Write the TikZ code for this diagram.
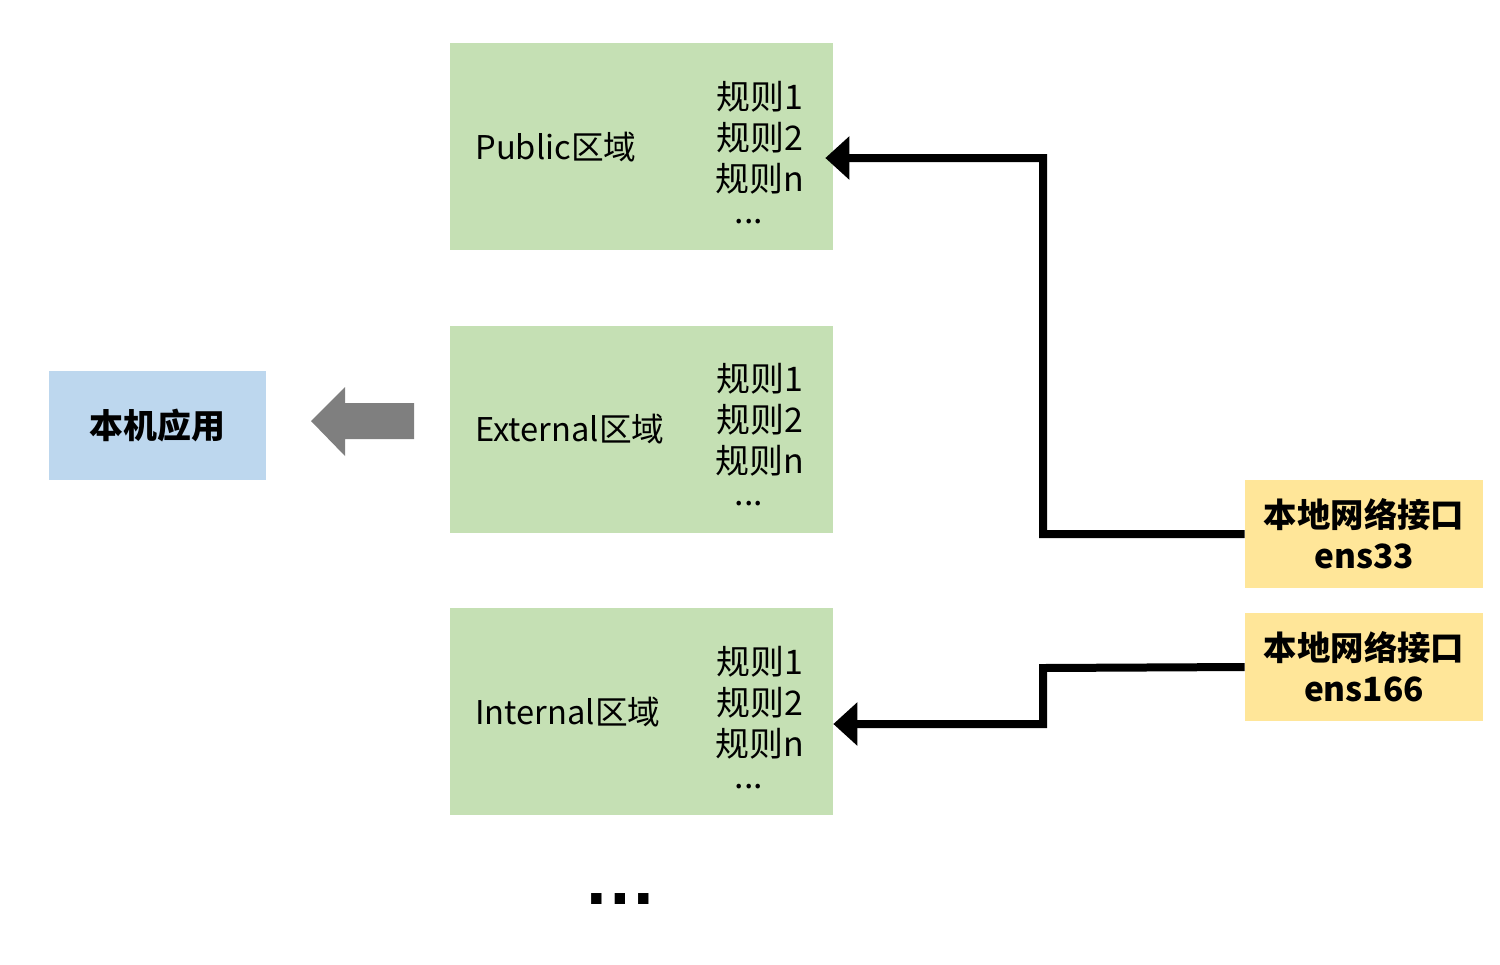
\documentclass[tikz,border=0pt]{standalone}
\usepackage{fontspec}
\setmainfont{Noto Sans CJK SC}
\newfontfamily\libsans{Liberation Sans}
\usetikzlibrary{arrows.meta,calc}
\definecolor{zonegreen}{HTML}{C5E0B4}
\definecolor{appblue}{HTML}{BDD7EE}
\definecolor{ifyellow}{HTML}{FFE699}
\definecolor{arrowgray}{HTML}{7F7F7F}
\begin{document}
\begin{tikzpicture}[x=0.02cm,y=-0.02cm,
  zone/.style={fill=zonegreen,draw=none,minimum width=7.66cm,minimum height=4.14cm,inner sep=0pt},
  app/.style={fill=appblue,draw=none,minimum width=4.34cm,minimum height=2.18cm,inner sep=0pt,font=\fontsize{19.3pt}{23pt}\selectfont\bfseries},
  iface/.style={fill=ifyellow,draw=none,minimum width=4.76cm,minimum height=2.16cm,inner sep=0pt,align=center,font=\fontsize{19pt}{23.5pt}\selectfont\bfseries},
  zonelabel/.style={anchor=west,inner sep=0pt,font=\fontsize{18.6pt}{20pt}\selectfont},
  rules/.style={anchor=base,inner sep=0pt,align=center,font=\fontsize{19.3pt}{23.5pt}\selectfont},
  conn/.style={line width=0.16cm,-{Triangle[length=0.48cm,width=0.84cm]}}]
\useasboundingbox (0,0) rectangle (1500,964);
% zones
\node[zone] (g1) at (641.5,146.5) {};
\node[zone] (g2) at (641.5,429.5) {};
\node[zone] (g3) at (641.5,711.5) {};
\node[zonelabel] (l1) at (475,147) {Public区域};
\node[zonelabel] (l2) at (475,429) {External区域};
\node[zonelabel] (l3) at (475,712) {Internal区域};
% rules
\node[rules] (r1) at (760,223) {规则1\\规则2\\规则n\\[-0.2cm]...\hspace*{0.44cm}};
\node[rules] (r2) at (760,505) {规则1\\规则2\\规则n\\[-0.2cm]...\hspace*{0.44cm}};
\node[rules] (r3) at (760,788) {规则1\\规则2\\规则n\\[-0.2cm]...\hspace*{0.44cm}};
% app
\node[app] (app) at (157.5,425.5) {本机应用};
% gray arrow
\fill[arrowgray] (311,421) -- (345,387) -- (345,403) -- (414,403) -- (414,439) -- (345,439) -- (345,456) -- cycle;
% interfaces
\node[iface] (y1) at (1364,534) {本地网络接口\\ens33};
\node[iface] (y2) at (1364,667) {本地网络接口\\ens166};
% connectors
\draw[conn] (y1.west) -- (1043,534) -- (1043,158) -- ([xshift=-0.16cm,yshift=-0.23cm]g1.east);
\draw[conn] (y2.west) -- (1043,668) -- (1043,724) -- ([yshift=-0.25cm]g3.east);
% more
\node[inner sep=0pt,anchor=base,font=\libsans\bfseries\fontsize{42pt}{44pt}\selectfont] (more) at (620,904) {…};
\end{tikzpicture}
\end{document}
